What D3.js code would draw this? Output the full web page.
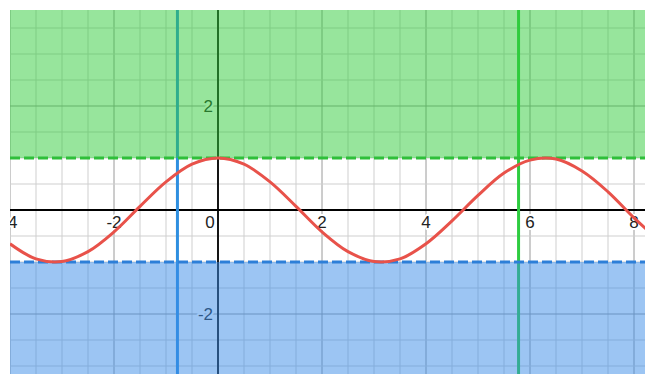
<html>
    <head>
        <script src="https://d3js.org/d3.v7.min.js"></script>
        <style>
            body { margin: 0; background: #fff; }
            svg { font-family: "Liberation Sans", Arial, sans-serif; display: block; }
            .tick-label { font-size: 17px; fill: #222; stroke: #fff; stroke-width: 4px; paint-order: stroke; stroke-linejoin: round; }
        </style>
    </head>
    <body>
        <div id="chart"></div>
        <script>
        // values
        var curveX = [-4, -3.5, -3, -2.5, -2, -1.5, -1, -0.5, 0, 0.5, 1, 1.5, 2, 2.5, 3, 3.5, 4, 4.5, 5, 5.5, 6, 6.5, 7, 7.5, 8, 8.5];
        var curveY = [-0.65, -0.94, -0.99, -0.80, -0.42, 0.07, 0.54, 0.88, 1, 0.88, 0.54, 0.07, -0.42, -0.80, -0.99, -0.94, -0.65, -0.21, 0.28, 0.71, 0.96, 0.98, 0.75, 0.35, -0.15, -0.60];
        var upperBound = 1;
        var lowerBound = -1;
        var vLineX = [-0.78, 5.78];
        var vLineColors = ["#2f8fe0", "#2ecc40"];
        var xTickLabels = [-4, -2, 0, 2, 4, 6, 8];
        var yTickLabels = [-2, 2];

        var width = 645;
        var height = 374;
        var padLeft = 10, padTop = 10;

        var x = d3.scaleLinear().domain([-4, (645 - 218) / 52]).range([padLeft, width]);
        var y = d3.scaleLinear().domain([-(374 - 210) / 52, (210 - padTop) / 52]).range([height, padTop]);

        var svg = d3.select("#chart").append("svg")
            .attr("width", width)
            .attr("height", height);

        svg.append("clipPath").attr("id", "clip")
            .append("rect")
            .attr("x", padLeft).attr("y", padTop)
            .attr("width", width - padLeft).attr("height", height - padTop);
        var g = svg.append("g").attr("clip-path", "url(#clip)");

        /* grid */
        var xs = d3.range(-4, 8.5, 0.5);
        var ys = d3.range(-3, 4, 0.5);
        var isMajor = v => Math.abs(v % 2) < 1e-9;
        g.selectAll(".vgrid").data(xs).enter().append("line")
            .attr("x1", d => x(d)).attr("x2", d => x(d))
            .attr("y1", padTop).attr("y2", height)
            .attr("stroke", d => isMajor(d) ? "#9a9a9a" : "#cfcfcf")
            .attr("stroke-width", 1);
        g.selectAll(".hgrid").data(ys).enter().append("line")
            .attr("y1", d => y(d)).attr("y2", d => y(d))
            .attr("x1", padLeft).attr("x2", width)
            .attr("stroke", d => isMajor(d) ? "#9a9a9a" : "#cfcfcf")
            .attr("stroke-width", 1);

        /* axes */
        g.append("line").attr("x1", padLeft).attr("x2", width)
            .attr("y1", y(0)).attr("y2", y(0))
            .attr("stroke", "#000").attr("stroke-width", 1.8);
        g.append("line").attr("x1", x(0)).attr("x2", x(0))
            .attr("y1", padTop).attr("y2", height)
            .attr("stroke", "#000").attr("stroke-width", 1.8);

        /* tick labels */
        g.selectAll(".xl").data(xTickLabels).enter().append("text")
            .attr("class", "tick-label")
            .attr("x", d => d === 0 ? x(0) - 8 : x(d))
            .attr("y", y(0) + 18)
            .attr("text-anchor", "middle")
            .text(d => d === 0 ? "0" : (d < 0 ? "-" + Math.abs(d) : d));
        g.selectAll(".yl").data(yTickLabels).enter().append("text")
            .attr("class", "tick-label")
            .attr("x", x(0) - 5)
            .attr("y", d => y(d) + 6)
            .attr("text-anchor", "end")
            .text(d => d < 0 ? "-" + Math.abs(d) : d);

        /* vertical lines */
        g.selectAll(".vline").data(vLineX).enter().append("line")
            .attr("x1", d => x(d)).attr("x2", d => x(d))
            .attr("y1", padTop).attr("y2", height)
            .attr("stroke", (d, i) => vLineColors[i])
            .attr("stroke-width", 3);

        /* shaded regions */
        g.append("rect")
            .attr("x", padLeft).attr("width", width - padLeft)
            .attr("y", padTop).attr("height", y(upperBound) - padTop)
            .attr("fill", "#2fcc3a").attr("fill-opacity", 0.5);
        g.append("rect")
            .attr("x", padLeft).attr("width", width - padLeft)
            .attr("y", y(lowerBound)).attr("height", height - y(lowerBound))
            .attr("fill", "#3a8ce8").attr("fill-opacity", 0.5);

        /* dashed boundaries */
        g.append("line")
            .attr("x1", padLeft).attr("x2", width)
            .attr("y1", y(upperBound)).attr("y2", y(upperBound))
            .attr("stroke", "#2fbf3a").attr("stroke-width", 3)
            .attr("stroke-dasharray", "10,4");
        g.append("line")
            .attr("x1", padLeft).attr("x2", width)
            .attr("y1", y(lowerBound)).attr("y2", y(lowerBound))
            .attr("stroke", "#2d7fd8").attr("stroke-width", 3)
            .attr("stroke-dasharray", "10,4");

        /* curve */
        var pts = curveX.map((v, i) => [v, curveY[i]]);
        var line = d3.line()
            .x(d => x(d[0]))
            .y(d => y(d[1]))
            .curve(d3.curveCatmullRom);
        g.append("path")
            .attr("d", line(pts))
            .attr("fill", "none")
            .attr("stroke", "#e8524a")
            .attr("stroke-width", 3);
        </script>
    </body>
</html>
